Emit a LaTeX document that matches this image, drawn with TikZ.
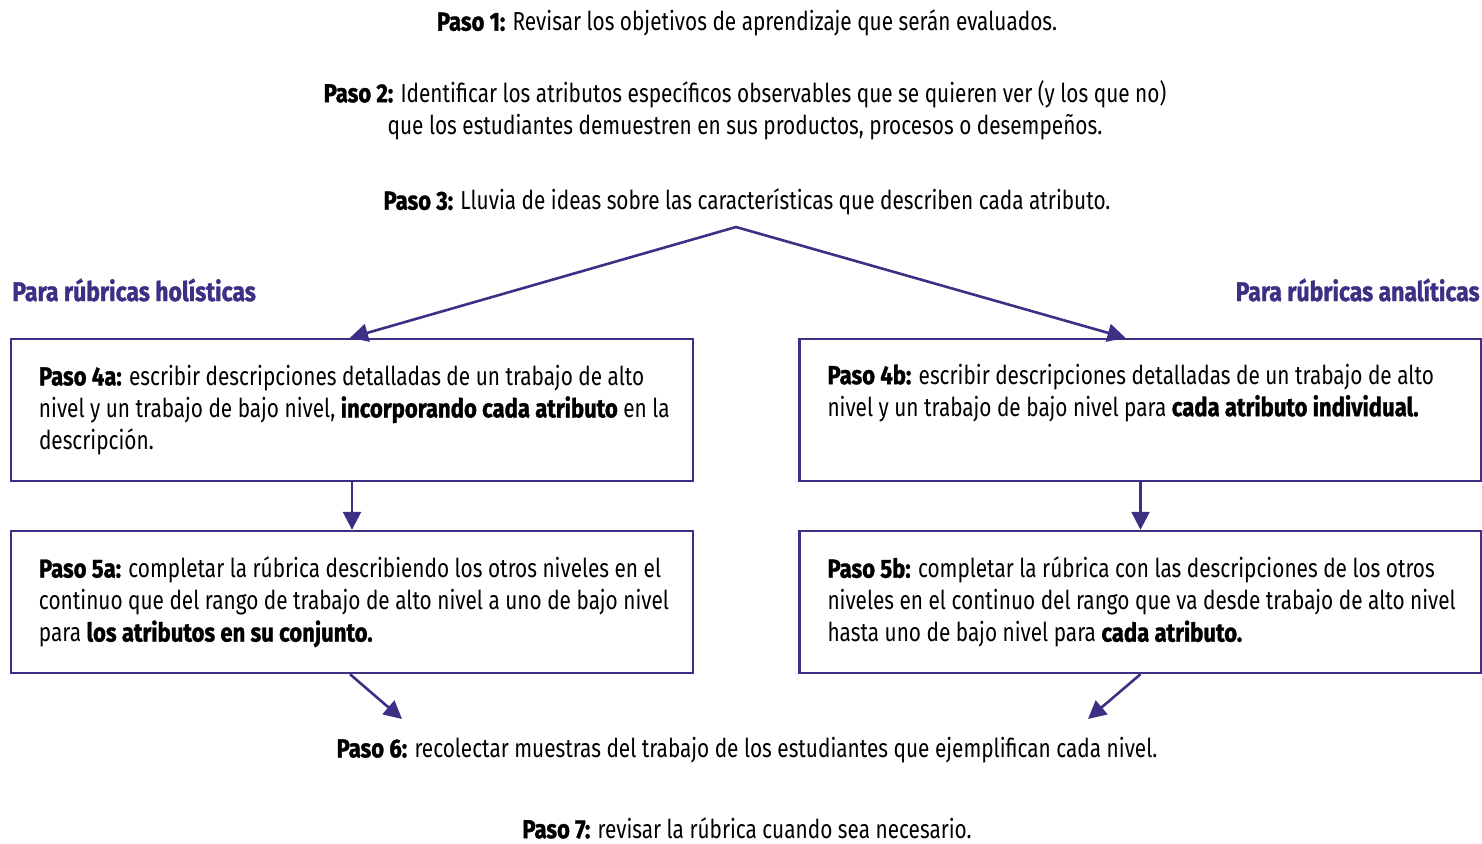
\documentclass[tikz,border=0pt]{standalone}
\usepackage{fontspec}
\setmainfont[FakeStretch=0.80,BoldFeatures={FakeStretch=0.85,FakeBold=1.2}]{Fira Sans}
\usetikzlibrary{arrows.meta,positioning}
\definecolor{rubpurple}{HTML}{3C2F84}

\begin{document}
\begin{tikzpicture}[x=0.5pt,y=-0.5pt,
    font=\fontsize{13pt}{16pt}\selectfont,
    stepbox/.style={draw=rubpurple,line width=1.2pt,minimum width=341pt,minimum height=71pt,
      text width=327pt,align=flush left,inner xsep=7pt,execute at begin node={\leftskip=7pt\relax}},
    sidelabel/.style={text=rubpurple,inner sep=0pt,font=\fontsize{13.5pt}{16pt}\selectfont\bfseries},
    flow/.style={draw=rubpurple,line width=1.3pt,-{Triangle[length=9pt,width=9pt]}}]
      \useasboundingbox (0,0) rectangle (1482,843);
      \begin{scope}[every node/.style={align=center}]
        \node (P1) at (747,23) {\textbf{Paso 1:} Revisar los objetivos de aprendizaje que serán evaluados.};
        \node (P2) at (745,110) {\textbf{Paso 2:} Identificar los atributos específicos observables que se quieren ver (y los que no)\\
          que los estudiantes demuestren en sus productos, procesos o desempeños.};
        \node (P3) at (747,202) {\textbf{Paso 3:} Lluvia de ideas sobre las características que describen cada atributo.};
        \node (P6) at (747,750) {\textbf{Paso 6:} recolectar muestras del trabajo de los estudiantes que ejemplifican cada nivel.};
        \node (P7) at (747,828) {\textbf{Paso 7:} revisar la rúbrica cuando sea necesario.};
      \end{scope}
      \node (HOL)[sidelabel,anchor=west] at (12,290) {Para rúbricas holísticas};
      \node (ANA)[sidelabel,anchor=east] at (1480,290) {Para rúbricas analíticas};
      \begin{scope}[every node/.style={stepbox}]
        \node (P4a) at (352,410) {\textbf{Paso 4a:} escribir descripciones detalladas de un trabajo de alto\\
          nivel y un trabajo de bajo nivel, \textbf{incorporando cada atributo} en la\\
          descripción.};
        \node (P4b) at (1140.5,410) {\textbf{Paso 4b:} escribir descripciones detalladas de un trabajo de alto\\
          nivel y un trabajo de bajo nivel para \textbf{cada atributo individual.}\\[4pt]
          \mbox{}};
        \node (P5a) at (352,602) {\textbf{Paso 5a:} completar la rúbrica describiendo los otros niveles en el\\
          continuo que del rango de trabajo de alto nivel a uno de bajo nivel\\
          para \textbf{los atributos en su conjunto.}};
        \node (P5b) at (1140.5,602) {\textbf{Paso 5b:} completar la rúbrica con las descripciones de los otros\\
          niveles en el continuo del rango que va desde trabajo de alto nivel\\
          hasta uno de bajo nivel para \textbf{cada atributo.}};
      \end{scope}
      \coordinate (split) at (736,227);
      \coordinate (in6a) at (402,719);
      \coordinate (in6b) at (1088,719);
      \draw[flow,{Triangle[length=9pt,width=9pt]}-{Triangle[length=9pt,width=9pt]}]
        ([xshift=-1pt]P4a.north) -- (split) -- ([xshift=-7.5pt]P4b.north);
      \path (P4a) edge[flow] (P5a);
      \path (P4b) edge[flow] (P5b);
      \path ([xshift=-1pt]P5a.south) edge[flow] (in6a);
      \path (P5b.south) edge[flow] (in6b);
    \end{tikzpicture}
\end{document}
